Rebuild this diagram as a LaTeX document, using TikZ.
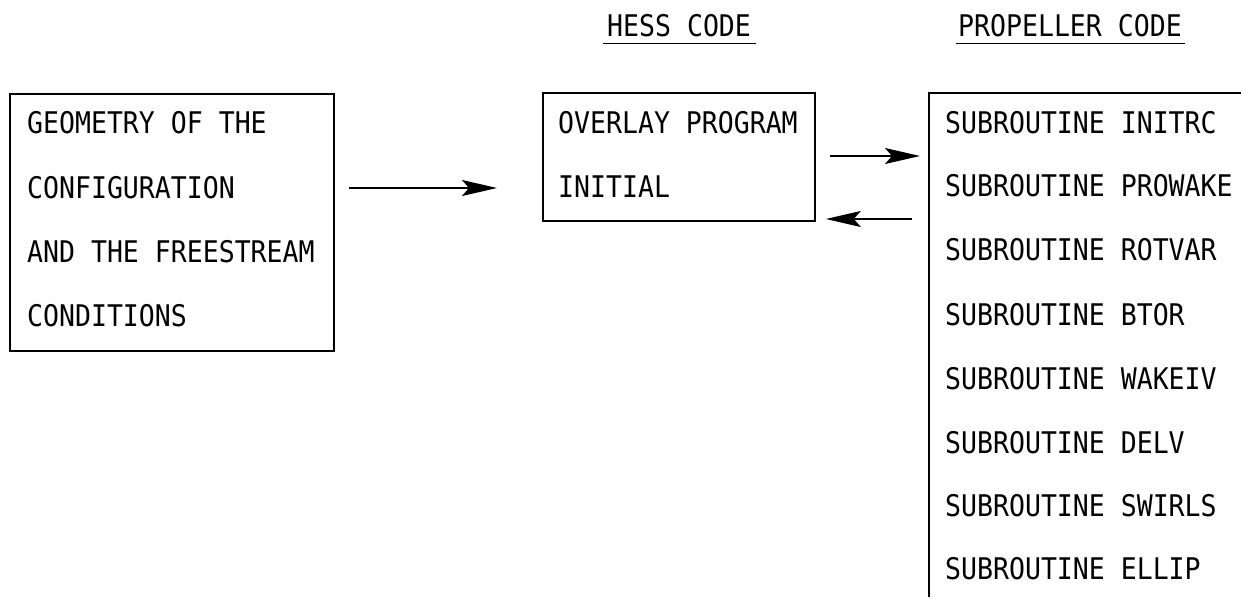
\documentclass[tikz,border=0pt]{standalone}
\usepackage{fontspec}
\newfontfamily\prmono[FakeStretch=0.89]{DejaVu Sans Mono}
\usetikzlibrary{arrows.meta}
\begin{document}
\begin{tikzpicture}[x=1pt,y=-1pt,
  txt/.style={anchor=base west, inner sep=0pt, font=\prmono\fontsize{29.8}{31}\selectfont},
  box/.style={draw, line width=1.8pt, inner sep=0pt, anchor=north west},
  ln/.style={line width=1.8pt},
  arr/.style={line width=1.8pt, -{Stealth[length=35pt,width=16pt,inset=7pt]}}]
\useasboundingbox (0,0) rectangle (1241,599);

% boxes
\node[box, minimum width=324pt, minimum height=257pt] (geo) at (9,93) {};
\node[box, minimum width=272pt, minimum height=128pt] (ovl) at (542,92) {};
\coordinate (ptr) at (1241,93);
\coordinate (prop) at (929,93);
\coordinate (pbot) at (929,597);
\draw[ln] (ptr) -- (prop) -- (pbot);

% headers
\node[txt] (hess) at (607,37) {HESS CODE};
\node[txt] (pcode) at (958,37) {PROPELLER CODE};
\draw[line width=1.5pt] ([xshift=-4pt,yshift=-6.5pt]hess.base west) -- ([xshift=5pt,yshift=-6.5pt]hess.base east);
\draw[line width=1.5pt] ([xshift=-2pt,yshift=-6.5pt]pcode.base west) -- ([xshift=3pt,yshift=-6.5pt]pcode.base east);

% left box text
\node[txt] (g1) at (27,133) {GEOMETRY OF THE};
\node[txt] (g2) at (27,198) {CONFIGURATION};
\node[txt] (g3) at (27,262) {AND THE FREESTREAM};
\node[txt] (g4) at (27,326) {CONDITIONS};

% middle box text
\node[txt] (o1) at (558,133) {OVERLAY PROGRAM};
\node[txt] (o2) at (558,197) {INITIAL};

% propeller subroutines
\node[txt] (s1) at (945,133) {SUBROUTINE INITRC};
\node[txt] (s2) at (945,196) {SUBROUTINE PROWAKE};
\node[txt] (s3) at (945,260) {SUBROUTINE ROTVAR};
\node[txt] (s4) at (945,325) {SUBROUTINE BTOR};
\node[txt] (s5) at (945,389) {SUBROUTINE WAKEIV};
\node[txt] (s6) at (945,453) {SUBROUTINE DELV};
\node[txt] (s7) at (945,516) {SUBROUTINE SWIRLS};
\node[txt] (s8) at (945,579) {SUBROUTINE ELLIP};

% arrows
\draw[arr, shorten <=14pt, shorten >=45pt] (geo.east |- 0,188) -- (ovl.west |- 0,188);
\draw[arr, shorten <=14pt, shorten >=9pt] (ovl.east |- 0,156) -- (prop |- 0,156);
\draw[arr, shorten <=17pt, shorten >=10pt] (prop |- 0,219) -- (ovl.east |- 0,219);
\end{tikzpicture}
\end{document}
